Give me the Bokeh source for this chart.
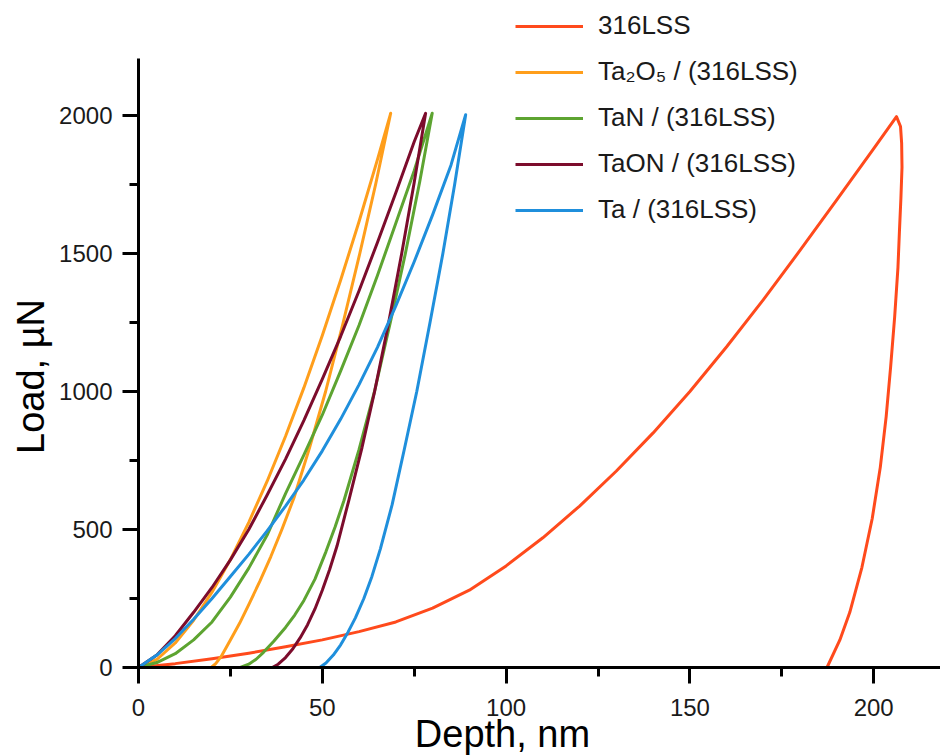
from bokeh.plotting import figure
from bokeh.models import Range1d, Legend, LegendItem, Label, FixedTicker
from bokeh.embed import file_html
from bokeh.resources import INLINE
import math

# ---------------- data (depth nm, load uN) ----------------
lss_depth = [0, 10, 20, 30, 40, 50, 60, 70, 80, 90, 100, 110, 120, 130, 140, 150, 160, 170, 180, 190, 200, 206.2,
             207.3, 207.6, 207.7, 207.4, 207.0, 206.6, 205.7, 204.6, 203.4, 201.8, 199.6, 196.8, 193.5, 190.8, 187.3]
lss_load = [0, 14, 32, 52, 75, 100, 130, 165, 215, 280, 368, 470, 585, 712, 850, 1000, 1162, 1333, 1512, 1695, 1880, 1996,
            1960, 1900, 1813, 1700, 1580, 1450, 1270, 1088, 910, 726, 540, 363, 200, 100, 0]

ta2o5_depth = [0, 5, 10, 15, 20, 25, 30, 35, 40, 45, 50, 55, 60, 65, 68.6,
               64.5, 60.2, 55.5, 50.9, 46.5, 42.3, 39, 36, 33, 30, 27.5, 25, 22.5, 21, 19.8]
ta2o5_load = [0, 29, 89, 171, 273, 391, 526, 675, 838, 1014, 1203, 1404, 1616, 1840, 2008,
              1750, 1500, 1240, 1000, 795, 615, 500, 402, 312, 228, 160, 100, 40, 14, 0]

tan_depth = [0, 5, 10, 15, 20, 25, 30, 35, 40, 45, 50, 55, 60, 65, 70, 75, 79.9,
             76.5, 72.6, 68.5, 64.2, 60, 55.9, 53.5, 51, 48, 45, 42.5, 40, 36.8, 34, 32, 30, 27.7]
tan_load = [0, 18, 50, 100, 165, 255, 360, 480, 630, 770, 915, 1075, 1240, 1420, 1610, 1800, 2008,
            1760, 1500, 1250, 1000, 790, 605, 510, 420, 320, 243, 190, 145, 95, 55, 30, 12, 0]

taon_depth = [0, 5, 10, 15, 20, 25, 30, 35, 40, 45, 50, 55, 60, 65, 70, 75, 78.1,
              75, 71.6, 68, 64.2, 60.8, 57.2, 54, 52, 50, 48, 46, 44, 42, 40, 38, 36.4]
taon_load = [0, 45, 115, 200, 290, 390, 500, 625, 755, 895, 1045, 1200, 1365, 1540, 1720, 1905, 2008,
             1757, 1500, 1246, 998, 797, 605, 440, 355, 280, 212, 155, 108, 68, 36, 12, 0]

ta_depth = [0, 5, 10, 15, 20, 25, 30, 35, 40, 45, 50, 55, 60, 65, 70, 75, 80, 85, 89,
            86, 82.8, 79.3, 75.7, 72.3, 69, 65.8, 63.5, 61.3, 59, 57, 55, 53, 51, 49.3]
ta_load = [0, 45, 105, 175, 250, 330, 410, 495, 585, 680, 785, 900, 1025, 1160, 1310, 1470, 1640, 1820, 2003,
           1750, 1500, 1250, 1000, 790, 590, 430, 330, 250, 180, 128, 82, 45, 16, 0]

series_names = ["316LSS", "Ta\u2082O\u2085 / (316LSS)", "TaN / (316LSS)", "TaON / (316LSS)", "Ta / (316LSS)"]
series_colors = ["#FF4A1C", "#FF9E1B", "#5DA431", "#7C0C2C", "#1F8FDC"]

x_ticks = [0, 50, 100, 150, 200]
x_minor = [25, 75, 125, 175]
y_ticks = [0, 500, 1000, 1500, 2000]
y_minor = [250, 750, 1250, 1750]

FONT = "Liberation Sans"
W, H = 940, 755
X0, Y0 = 138, 667          # screen position of (0, 0)
PX_X, PX_Y = 3.676, 0.276  # pixels per nm, pixels per uN

p = figure(width=W, height=H, output_backend="svg", toolbar_location=None,
           x_range=Range1d(-X0 / PX_X, (W - X0) / PX_X),
           y_range=Range1d(-(H - Y0) / PX_Y, Y0 / PX_Y),
           min_border_left=0, min_border_right=0, min_border_top=0, min_border_bottom=0)
p.outline_line_color = None
p.grid.visible = False
p.background_fill_color = "white"
p.border_fill_color = "white"

for ax in (p.xaxis[0], p.yaxis[0]):
    ax.fixed_location = 0
    ax.axis_line_width = 3
    ax.axis_line_color = "black"
    ax.major_tick_line_width = 3
    ax.minor_tick_line_width = 3
    ax.major_tick_line_color = "black"
    ax.minor_tick_line_color = "black"
    ax.major_tick_in = 0
    ax.minor_tick_in = 0
    ax.major_tick_out = 16
    ax.minor_tick_out = 9
    ax.major_label_text_font = FONT
    ax.major_label_text_font_size = "24px"
    ax.major_label_text_color = "#1a1a1a"

p.xaxis.ticker = FixedTicker(ticks=x_ticks, minor_ticks=x_minor)
p.yaxis.ticker = FixedTicker(ticks=y_ticks, minor_ticks=y_minor)
p.xaxis.bounds = (0, (W - X0) / PX_X)
p.yaxis.bounds = (0, 2207)
p.xaxis.major_label_standoff = 15
p.yaxis.major_label_standoff = 10

all_d = [lss_depth, ta2o5_depth, tan_depth, taon_depth, ta_depth]
all_l = [lss_load, ta2o5_load, tan_load, taon_load, ta_load]
items = []
for name, col, d, l in zip(series_names, series_colors, all_d, all_l):
    r = p.line(d, l, line_color=col, line_width=3, line_join="round")
    items.append(LegendItem(label=name, renderers=[r]))

legend = Legend(items=items, location=(515, 530), orientation="vertical",
                padding=0, margin=0, spacing=15, glyph_width=68, glyph_height=30,
                label_height=30, label_standoff=15,
                label_text_font=FONT, label_text_font_size="26px", label_text_color="#1a1a1a",
                border_line_color=None, background_fill_alpha=0)
p.add_layout(legend)

p.add_layout(Label(x=502, y=22, x_units="screen", y_units="screen", text="Depth, nm",
                   text_font=FONT, text_font_size="38px", text_align="center",
                   text_baseline="alphabetic", text_color="black"))
p.add_layout(Label(x=30, y=H - 376, x_units="screen", y_units="screen", text="Load, \u00b5N",
                   angle=math.pi / 2, text_font=FONT, text_font_size="38px", text_align="center",
                   text_baseline="alphabetic", text_color="black"))

open("out.html", "w").write(file_html(p, INLINE))
